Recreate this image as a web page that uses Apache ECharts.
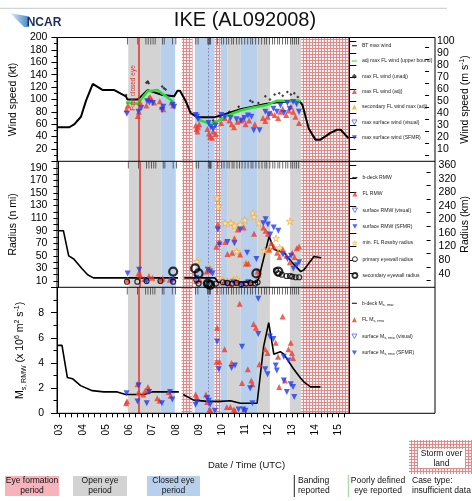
<!DOCTYPE html>
<html><head><meta charset="utf-8">
<script src="https://cdn.jsdelivr.net/npm/echarts@6/dist/echarts.min.js"></script>
<style>html,body{margin:0;padding:0;background:#fff}#c{width:472px;height:501px}</style>
</head><body><div id="c"></div>
<script>
// ---------------- DATA ----------------
const dayLabels = ['03','04','05','06','07','08','09','10','11','12','13','14','15'];
const dayTicks = [3,4,5,6,7,8,9,10,11,12,13,14,15];
const openEyePeriods = [[5.94,7.34],[10.21,10.78],[11.50,12.05],[12.91,13.40]];
const closedEyePeriods = [[7.34,7.96],[8.81,9.67],[9.92,10.21],[10.78,11.50]];
const overLandPeriods = [[8.25,8.71],[9.67,9.92],[13.40,15.47]];
const firstClosedEye = 6.41;
const dottedTime = 9.38;
const bandingTimes = [5.91,6.35,6.70,6.80,6.91,7.01,7.10,7.42,7.49,7.85,7.99,8.85,8.95,9.37,9.40,9.43,9.46,9.49,9.78,
  9.95,10.05,10.18,10.27,10.40,10.48,10.61,10.72,10.83,10.96,11.09,11.22,11.30,11.43,11.56,11.69,11.82,11.90,12.03,
  12.16,12.25,12.38,12.46,12.59,12.72,12.81,12.94,13.02,13.11,13.19,13.28];

// top panel (kt)
const btMaxWind = [[2.885,55],[3.40,55],[3.62,60],[3.90,72],[4.12,98],[4.41,125],[4.84,115],[5.34,115],[5.84,105],[5.90,100],
  [6.34,100],[6.50,105],[6.77,115],[7.42,107],[7.92,105],[8.06,114],[8.17,114],[8.42,97],[8.63,78],[8.92,71],[9.64,71],
  [10.0,75],[10.78,84],[11.3,88],[11.8,92],[12.3,95],[12.9,97],[13.3,98],[13.45,91],[13.72,53],[14.01,35],[14.23,35],
  [14.66,46],[14.94,51],[15.1,51],[15.44,37]];
const adjMaxFLWind = [[5.84,95],[6.34,93],[6.77,113],[7.20,115],[7.49,107],[7.92,95],[8.4,null],[8.92,68],[9.49,60],
  [9.85,66],[10.35,76],[10.78,82],[11.22,86],[11.93,91],[12.36,98],[13.08,98],[13.37,97]];
const maxFLWindUnadj = [[5.85,107],[6.72,127],[6.78,129],[6.82,126],[7.40,121],[7.48,118],[7.55,116],[9.6,66],[9.9,72],
  [10.3,80],[10.7,88],[11.2,98],[11.3,96],[11.55,94],[11.85,105],[12.05,100],[12.25,108],[12.45,110],[12.6,106],[12.8,112],
  [12.95,108],[13.1,110],[13.25,104]];
const maxFLWindAdj = [[5.86,84],[5.92,90],[6.35,73],[6.40,80],[6.45,95],[6.72,90],[6.82,102],[6.88,104],[6.95,100],[7.05,95],
  [7.30,97],[7.38,88],[7.45,84],[7.80,95],[7.88,90],[8.85,58],[8.88,52],[8.92,48],[8.95,55],[9.0,60],[9.35,52],[9.42,45],
  [9.47,40],[9.55,38],[9.6,48],[9.7,44],[9.95,62],[10.1,70],[10.3,66],[10.4,60],[10.5,55],[10.65,64],[10.8,66],[10.9,68],
  [11.0,60],[11.15,66],[11.4,60],[11.75,70],[11.85,65],[11.95,72],[12.1,78],[12.25,75],[12.4,70],[12.5,80],[12.6,85],
  [12.75,75],[12.85,82],[12.95,88],[13.05,80],[13.15,72],[13.3,62]];
const maxSfcWindSFMR = [[5.88,77],[6.38,80],[6.50,86],[6.75,97],[6.85,95],[7.0,94],[7.40,83],[7.45,88],[7.85,91],[7.92,88],
  [8.85,75],[8.9,72],[8.95,68],[9.4,62],[9.5,55],[9.6,52],[9.7,58],[9.95,75],[10.1,72],[10.35,70],[10.6,68],[10.8,66],
  [10.95,70],[11.1,74],[11.25,72],[11.35,50],[11.6,50],[11.85,80],[12.0,76],[12.2,85],[12.35,80],[12.5,90],[12.65,78],
  [12.8,94],[12.9,85],[13.05,96],[13.2,92],[13.3,80]];

// middle panel (n mi)
const bdeckRMW = [[2.885,90],[3.10,90],[3.33,50],[3.55,45],[3.90,30],[4.15,20],[4.40,15],[8.06,15],[8.2,null],[8.33,15],
  [9.65,15],[9.80,8],[11.45,8],[11.55,14],[12.0,81],[12.22,60],[12.5,57],[12.65,55],[13.08,36],[13.37,25],[13.51,28],
  [13.94,49],[14.25,47]];
const flRMW = [[5.88,12],[6.35,22],[6.42,20],[6.6,13],[6.8,18],[6.95,15],[7.3,12],[7.4,14],[7.7,12],[7.85,14],[8.85,10],
  [9.0,12],[9.3,25],[9.4,28],[9.72,65],[9.78,100],[9.85,72],[10.1,72],[10.2,53],[10.4,55],[10.5,78],[10.65,92],[10.75,52],
  [10.9,95],[11.0,38],[11.1,38],[11.35,85],[11.5,25],[11.55,20],[11.75,95],[11.85,90],[11.95,85],[12.0,60],[12.1,70],
  [12.2,65],[12.35,55],[12.45,48],[12.6,60],[12.75,50],[12.9,40],[13.0,55],[13.1,48],[13.2,62],[13.3,65],[10.05,8],
  [10.3,6],[10.6,9],[10.9,7],[11.2,6]];
const sfcRMWSFMR = [[5.88,22],[6.38,28],[6.7,10],[7.8,10],[8.85,15],[9.35,28],[9.45,25],[9.55,22],[9.78,92],[9.85,68],
  [10.2,72],[10.5,70],[10.75,92],[11.05,55],[11.45,45],[11.75,102],[11.85,108],[11.95,100],[12.05,84],[12.2,95],[12.4,90],
  [12.6,52],[12.8,45],[12.95,50],[13.05,30],[13.2,35],[13.3,40],[10.15,6],[10.45,8],[10.8,5],[11.1,8]];
const rossbyRadius = [[8.88,41],[9.38,32],[9.42,28],[9.45,25],[9.75,142],[9.8,129],[10.1,102],[10.35,102],[10.5,98],
  [10.6,57],[10.75,100],[10.95,107],[11.0,38],[11.3,118],[11.35,112],[11.55,102],[11.8,58],[12.0,60],[12.3,78],[12.45,63],
  [12.55,55],[12.9,105],[10.0,12],[10.2,10],[10.45,12],[10.6,13]];
const primaryEyewall = [[5.85,9],[6.3,9],[6.7,10],[7.3,10],[7.85,9],[8.85,12],[8.95,6],[9.3,6],[9.45,5],[9.7,6],[10.0,8],
  [10.2,7],[10.4,6],[10.6,7],[10.8,5],[11.0,6],[11.2,7],[11.4,6],[11.5,8],[12.3,27],[12.4,22],[12.55,20],[12.75,18],
  [12.9,18],[13.0,17],[13.15,16],[13.3,16]];
const secondaryEyewall = [[7.85,25],[8.8,30],[8.95,22],[9.35,6],[9.45,4],[11.45,22],[12.4,25]];

// bottom panel (x10^6 m2 s-1)
const bdeckMs = [[2.885,5.4],[3.10,5.4],[3.33,2.85],[3.55,2.75],[3.90,2.2],[4.40,1.8],[4.90,1.7],[5.48,1.7],[5.84,1.5],
  [6.62,1.5],[6.98,1.7],[7.91,1.7],[8.13,1.7],[8.2,null],[8.32,1.5],[8.77,1.05],[9.35,0.95],[9.92,0.95],[10.35,1.0],
  [10.78,0.8],[11.50,0.8],[11.78,5.3],[12.0,7.2],[12.22,4.7],[12.50,4.9],[12.65,4.7],[13.08,3.5],[13.37,2.8],[13.51,2.5],
  [13.80,2.1],[14.23,2.1]];
const flMs = [[5.86,0.8],[5.9,0.95],[6.35,2.3],[6.4,1.7],[6.6,1.5],[6.68,1.8],[6.8,2.1],[6.85,1.9],[7.2,1.2],[7.3,1.0],
  [7.7,1.7],[7.78,1.4],[8.85,1.5],[8.9,1.3],[9.3,1.5],[9.35,0.9],[9.45,0.3],[9.5,0.2],[9.78,6.8],[9.76,4.1],[9.88,4.1],
  [10.1,5.1],[10.2,0.5],[10.35,0.5],[10.5,0.3],[10.55,0.2],[10.4,4.0],[10.75,8.7],[10.85,2.4],[10.95,0.3],[11.1,3.5],
  [11.25,2.6],[11.3,2.3],[11.35,7.1],[11.45,6.8],[11.6,3.9],[11.85,5.1],[11.95,4.8],[12.3,5.6],[12.4,4.5],[12.45,2.1],
  [12.6,7.7],[12.7,2.6],[12.85,5.1],[12.95,5.6],[13.0,4.8],[13.05,4.4]];
const sfcMsSFMR = [[5.88,1.6],[6.35,0.93],[6.4,2.2],[6.75,0.8],[6.85,1.7],[7.4,0.8],[7.75,1.7],[7.85,1.1],[8.85,0.67],
  [8.9,0.9],[9.35,1.2],[9.42,1.0],[9.48,0.7],[9.68,0.2],[9.78,5.7],[9.85,3.5],[10.4,3.6],[10.55,3.8],[10.7,0.3],[10.85,5.3],
  [10.9,0.3],[11.0,0.2],[11.2,2.0],[11.3,0.8],[11.55,9.1],[11.55,6.3],[11.85,3.5],[11.95,3.1],[12.05,6.1],[12.2,5.9],
  [12.3,3.8],[12.35,3.4],[12.65,4.5],[12.65,2.6],[12.78,1.7],[12.85,4.2],[12.95,2.3],[13.05,2.1],[13.1,1.3]];

// ---------------- STYLE / LAYOUT ----------------
const FONT = 'Liberation Sans, Arial, Helvetica, sans-serif';
const RED = '#f0392c', BLUE = '#1e3cf2', GREEN = '#29e02e', ORANGE = '#f5a82a';
const GRAY_BAND = '#d3d3d3', BLUE_BAND = '#b9d0ec';
const L = 57, R = 349.3, FR = 435;
const panels = [{top:37.5,h:123.8},{top:161.5,h:125.8},{top:287.5,h:125.8}];
const yMax = [200,200,10];

function hatchCanvas(){
  const c = document.createElement('canvas'); c.width = 3; c.height = 3;
  const g = c.getContext('2d');
  g.fillStyle = '#fdf5f5'; g.fillRect(0,0,3,3);
  g.fillStyle = 'rgba(200,70,70,0.6)'; g.fillRect(0,0,3,1); g.fillRect(0,1,1,2);
  return c;
}
const hatch = {image: hatchCanvas(), repeat: 'repeat'};
const INV_TRI = 'path://M0,0 L10,0 L5,9 Z';
const STAR = 'path://M50,0 L61,35 L98,35 L68,57 L79,91 L50,70 L21,91 L32,57 L2,35 L39,35 Z';
const LINE_ICON = 'path://M0,0 L0.05,0 L0,0.05 Z M0,4 L10,4 L10,6 L0,6 Z M10,10 L9.95,10 L10,9.95 Z';

const allTicks = [];
for (let d = 3; d <= 15.25; d += 0.25) allTicks.push(d);

const grids = [], xAxes = [], yAxes = [], series = [];
panels.forEach((p, i) => {
  grids.push({left: L, top: p.top, width: R - L, height: p.h});
  xAxes.push({
    type: 'value', gridIndex: i, min: 2.885, max: 15.47,
    axisLine: {show: i === 2, lineStyle: {color: '#000', width: 1}},
    axisTick: {show: i === 2, customValues: allTicks, length: 4, lineStyle: {color: '#000'}},
    axisLabel: {show: i === 2, customValues: dayTicks, rotate: 90, margin: 11, fontSize: 10, color: '#000', fontFamily: FONT,
      formatter: v => dayLabels[dayTicks.indexOf(Math.round(v))] || ''},
    splitLine: {show: false}
  });
});
panels.forEach((p, i) => {
  grids.push({left: R, top: p.top, width: FR - R, height: p.h});
  xAxes.push({type: 'value', gridIndex: 3 + i, min: 0, max: 1, show: false});
});

const nameStyle = {fontSize: 10.5, color: '#000', fontFamily: FONT,
  rich: {m: {fontSize: 10.5, lineHeight: 14, fontFamily: FONT, color: '#000'},
         s: {fontSize: 7, lineHeight: 7, verticalAlign: 'bottom', fontFamily: FONT, color: '#000'},
         p: {fontSize: 7, lineHeight: 7, verticalAlign: 'top', fontFamily: FONT, color: '#000'}}};
const lblBase = {color: '#000', fontSize: 10.5, fontFamily: FONT};

// left axes
yAxes.push({type: 'value', gridIndex: 0, min: 0, max: 200, interval: 20,
  name: 'Wind speed (kt)', nameLocation: 'middle', nameGap: 33, nameRotate: 90, nameTextStyle: nameStyle,
  axisLine: {show: true, lineStyle: {color: '#000'}}, axisTick: {length: 6, lineStyle: {color: '#000'}},
  minorTick: {show: true, splitNumber: 2, length: 3.5, lineStyle: {color: '#000'}},
  axisLabel: Object.assign({margin: 10, showMinLabel: false}, lblBase), splitLine: {show: false}});
yAxes.push({type: 'value', gridIndex: 1, min: 0, max: 200, interval: 10,
  name: 'Radius (n mi)', nameLocation: 'middle', nameGap: 33, nameRotate: 90, nameTextStyle: nameStyle,
  axisLine: {show: true, lineStyle: {color: '#000'}}, axisTick: {length: 5, lineStyle: {color: '#000'}},
  axisLabel: Object.assign({margin: 11, formatter: v => (Math.round(v) % 20 === 10 ? String(Math.round(v)) : '')}, lblBase),
  splitLine: {show: false}});
yAxes.push({type: 'value', gridIndex: 2, min: 0, max: 10, interval: 2,
  name: '{m|M}{s|s, RMW}{m| (x 10}{p|6}{m| m}{p|2}{m| s}{p|-1}{m|)}', nameLocation: 'middle', nameGap: 26, nameRotate: 90,
  nameTextStyle: nameStyle,
  axisLine: {show: true, lineStyle: {color: '#000'}}, axisTick: {length: 6, lineStyle: {color: '#000'}},
  minorTick: {show: true, splitNumber: 2, length: 3.5, lineStyle: {color: '#000'}},
  axisLabel: Object.assign({margin: 13, showMaxLabel: false}, lblBase), splitLine: {show: false}});
// right axes
const ms = [], msMinor = [];
for (let v = 10; v <= 100; v += 10) ms.push(v);
for (let v = 5; v <= 100; v += 10) msMinor.push(v);
const km = [], kmMinor = [];
for (let v = 40; v <= 360; v += 40) km.push(v);
for (let v = 20; v <= 360; v += 40) kmMinor.push(v);
yAxes.push({type: 'value', gridIndex: 3, position: 'right', min: 0, max: 200 * 0.514444,
  name: '{m|Wind speed (m s}{p|-1}{m|)}', nameLocation: 'middle', nameGap: 26, nameRotate: 90, nameTextStyle: nameStyle,
  axisLine: {show: true, lineStyle: {color: '#000'}},
  axisTick: {customValues: ms, length: 7, lineStyle: {color: '#000'}},
  axisLabel: Object.assign({customValues: ms, margin: 12}, lblBase), splitLine: {show: false}});
yAxes.push({type: 'value', gridIndex: 4, position: 'right', min: 0, max: 200 * 1.852,
  name: 'Radius (km)', nameLocation: 'middle', nameGap: 27, nameRotate: 90, nameTextStyle: nameStyle,
  axisLine: {show: true, lineStyle: {color: '#000'}},
  axisTick: {customValues: km, length: 7, lineStyle: {color: '#000'}},
  axisLabel: Object.assign({customValues: km, margin: 12}, lblBase), splitLine: {show: false}});
yAxes.push({type: 'value', gridIndex: 5, position: 'right', min: 0, max: 10,
  axisLine: {show: true, lineStyle: {color: '#000'}}, axisTick: {show: false}, axisLabel: {show: false}, splitLine: {show: false}});
yAxes.push({type: 'value', gridIndex: 3, position: 'right', min: 0, max: 200 * 0.514444,
  axisLine: {show: false}, axisTick: {customValues: msMinor, length: 4, lineStyle: {color: '#000'}},
  axisLabel: {show: false}, splitLine: {show: false}});
yAxes.push({type: 'value', gridIndex: 4, position: 'right', min: 0, max: 200 * 1.852,
  axisLine: {show: false}, axisTick: {customValues: kmMinor, length: 4, lineStyle: {color: '#000'}},
  axisLabel: {show: false}, splitLine: {show: false}});

// background bands + reference lines + banding marks per panel
function bandData(){
  const d = [];
  openEyePeriods.forEach(p => d.push([{xAxis: p[0], itemStyle: {color: GRAY_BAND}}, {xAxis: p[1]}]));
  closedEyePeriods.forEach(p => d.push([{xAxis: p[0], itemStyle: {color: BLUE_BAND}}, {xAxis: p[1]}]));
  overLandPeriods.forEach(p => d.push([{xAxis: p[0], itemStyle: {color: hatch}}, {xAxis: p[1]}]));
  return d;
}
for (let i = 0; i < 3; i++) {
  series.push({type: 'line', xAxisIndex: i, yAxisIndex: i, data: [], z: 0, silent: true,
    markArea: {silent: true, itemStyle: {opacity: 1}, data: bandData()}});
  series.push({type: 'line', xAxisIndex: i, yAxisIndex: i, data: [], z: 2, silent: true,
    markLine: {silent: true, symbol: 'none', label: {show: false}, data: [
      {xAxis: firstClosedEye, lineStyle: {color: '#e0302a', width: 1.5, type: 'solid'}},
      {xAxis: dottedTime, lineStyle: {color: '#7a78b0', width: 1, type: [1.5, 2]}}]}});
  series.push({type: 'scatter', xAxisIndex: i, yAxisIndex: i, z: 3, silent: true,
    data: bandingTimes.map(t => [t, yMax[i]]), symbol: 'rect', symbolSize: [0.9, 7], symbolOffset: [0, 3.5],
    itemStyle: {color: '#333'}});
}

// top panel series
series.push({name: 'BT max wind', type: 'line', xAxisIndex: 0, yAxisIndex: 0, data: btMaxWind, symbol: 'none', z: 4,
  lineStyle: {color: '#000', width: 2}, itemStyle: {color: '#000'}});
series.push({name: 'adj max FL wind (upper bound)', type: 'line', xAxisIndex: 0, yAxisIndex: 0, data: adjMaxFLWind, symbol: 'none', z: 5,
  connectNulls: false, lineStyle: {color: GREEN, width: 2.5}, itemStyle: {color: GREEN}});
series.push({name: 'max FL wind (unadj)', type: 'scatter', xAxisIndex: 0, yAxisIndex: 0, data: maxFLWindUnadj, z: 6,
  symbol: 'diamond', symbolSize: 3, itemStyle: {color: '#111'}});
series.push({name: 'max FL wind (adj)', type: 'scatter', xAxisIndex: 0, yAxisIndex: 0, data: maxFLWindAdj, z: 6,
  symbol: 'triangle', symbolSize: 6, itemStyle: {color: RED}});
series.push({name: 'secondary FL wind max (adj)', type: 'scatter', xAxisIndex: 0, yAxisIndex: 0, data: [], z: 6,
  symbol: 'triangle', symbolSize: 6, itemStyle: {color: ORANGE}});
series.push({name: 'max surface wind (visual)', type: 'scatter', xAxisIndex: 0, yAxisIndex: 0, data: [], z: 6,
  symbol: INV_TRI, symbolSize: 6, itemStyle: {color: '#fff', borderColor: BLUE, borderWidth: 1}});
series.push({name: 'max surface wind (SFMR)', type: 'scatter', xAxisIndex: 0, yAxisIndex: 0, data: maxSfcWindSFMR, z: 6,
  symbol: INV_TRI, symbolSize: 6, itemStyle: {color: BLUE}});

// middle panel series
series.push({name: 'b-deck RMW', type: 'line', xAxisIndex: 1, yAxisIndex: 1, data: bdeckRMW, symbol: 'none', z: 4,
  lineStyle: {color: '#000', width: 1.6}, itemStyle: {color: '#000'}});
series.push({name: 'FL RMW', type: 'scatter', xAxisIndex: 1, yAxisIndex: 1, data: flRMW, z: 6,
  symbol: 'triangle', symbolSize: 6, itemStyle: {color: RED}});
series.push({name: 'surface RMW (visual)', type: 'scatter', xAxisIndex: 1, yAxisIndex: 1, data: [], z: 6,
  symbol: INV_TRI, symbolSize: 6, itemStyle: {color: '#fff', borderColor: BLUE, borderWidth: 1}});
series.push({name: 'surface RMW (SFMR)', type: 'scatter', xAxisIndex: 1, yAxisIndex: 1, data: sfcRMWSFMR, z: 6,
  symbol: INV_TRI, symbolSize: 6, itemStyle: {color: BLUE}});
series.push({name: 'min. FL Rossby radius', type: 'scatter', xAxisIndex: 1, yAxisIndex: 1, data: rossbyRadius, z: 5,
  symbol: STAR, symbolSize: 7, itemStyle: {color: '#fde8b8', borderColor: ORANGE, borderWidth: 0.8}});
series.push({name: 'primary eyewall radius', type: 'scatter', xAxisIndex: 1, yAxisIndex: 1, data: primaryEyewall, z: 7,
  symbol: 'circle', symbolSize: 5, itemStyle: {color: 'rgba(255,255,255,0)', borderColor: '#000', borderWidth: 1.2}});
series.push({name: 'secondary eyewall radius', type: 'scatter', xAxisIndex: 1, yAxisIndex: 1, data: secondaryEyewall, z: 7,
  symbol: 'circle', symbolSize: 8, itemStyle: {color: 'rgba(255,255,255,0)', borderColor: '#000', borderWidth: 2.2}});

// bottom panel series
series.push({name: 'b-deck Ms,rmw', type: 'line', xAxisIndex: 2, yAxisIndex: 2, data: bdeckMs, symbol: 'none', z: 4,
  lineStyle: {color: '#000', width: 1.6}, itemStyle: {color: '#000'}});
series.push({name: 'FL Ms,rmw', type: 'scatter', xAxisIndex: 2, yAxisIndex: 2, data: flMs, z: 6,
  symbol: 'triangle', symbolSize: 6, itemStyle: {color: RED}});
series.push({name: 'surface Ms,rmw (visual)', type: 'scatter', xAxisIndex: 2, yAxisIndex: 2, data: [], z: 6,
  symbol: INV_TRI, symbolSize: 6, itemStyle: {color: '#fff', borderColor: BLUE, borderWidth: 1}});
series.push({name: 'surface Ms,rmw (SFMR)', type: 'scatter', xAxisIndex: 2, yAxisIndex: 2, data: sfcMsSFMR, z: 6,
  symbol: INV_TRI, symbolSize: 6, itemStyle: {color: BLUE}});

const legendText = {fontSize: 5.1, color: '#222', fontFamily: FONT, lineHeight: 7,
  rich: {n: {fontSize: 5.1, fontFamily: FONT, color: '#222', lineHeight: 7},
         s: {fontSize: 3.6, fontFamily: FONT, color: '#222', lineHeight: 4, verticalAlign: 'bottom'}}};
function legend(top, gap, items, fmt){
  return {orient: 'vertical', left: 351.5, top: top, itemWidth: 5, itemHeight: 5, itemGap: gap, padding: 0,
    selectedMode: false, textStyle: legendText, data: items.map(it => ({name: it[0], icon: it[1], itemStyle: it[2]})),
    formatter: fmt};
}
const openTri = {color: '#fff', borderColor: BLUE, borderWidth: 0.8};
const legends = [
  legend(42.2, 8.3, [['BT max wind', LINE_ICON, {color: '#000'}],
    ['adj max FL wind (upper bound)', LINE_ICON, {color: GREEN}],
    ['max FL wind (unadj)', 'diamond', {color: '#222'}],
    ['max FL wind (adj)', 'triangle', {color: RED}],
    ['secondary FL wind max (adj)', 'triangle', {color: ORANGE}],
    ['max surface wind (visual)', INV_TRI, openTri],
    ['max surface wind (SFMR)', INV_TRI, {color: BLUE}]]),
  legend(174.2, 9.3, [['b-deck RMW', LINE_ICON, {color: '#000'}],
    ['FL RMW', 'triangle', {color: RED}],
    ['surface RMW (visual)', INV_TRI, openTri],
    ['surface RMW (SFMR)', INV_TRI, {color: BLUE}],
    ['min. FL Rossby radius', STAR, {color: '#fde8b8', borderColor: ORANGE, borderWidth: 0.6}],
    ['primary eyewall radius', 'circle', {color: '#fff', borderColor: '#000', borderWidth: 1}],
    ['secondary eyewall radius', 'circle', {color: '#fff', borderColor: '#000', borderWidth: 1.8}]]),
  legend(299.8, 9.5, [['b-deck Ms,rmw', LINE_ICON, {color: '#000'}],
    ['FL Ms,rmw', 'triangle', {color: RED}],
    ['surface Ms,rmw (visual)', INV_TRI, openTri],
    ['surface Ms,rmw (SFMR)', INV_TRI, {color: BLUE}]],
    name => {
      const m = name.match(/^(.*)Ms,rmw(.*)$/);
      return '{n|' + m[1] + 'M}{s|s, rmw}{n|' + m[2] + '}';
    })
];

const txt = (x, y, t, o) => Object.assign({type: 'text', x: x, y: y, style: Object.assign({text: t, fill: '#111',
  font: '8.5px ' + FONT, textAlign: 'center', textVerticalAlign: 'middle', lineHeight: 10}, o || {})});
const graphics = [
  {type: 'line', shape: {x1: 0, y1: 8.3, x2: 447, y2: 8.3}, style: {stroke: '#c8c8c8', lineWidth: 1}},
  {type: 'polygon', shape: {points: [[10,13],[29,16.5],[29,27],[24,27]]},
    style: {fill: new echarts.graphic.LinearGradient(0,0,1,0,[{offset:0,color:'#e3f0fb'},{offset:1,color:'#3f86c8'}])}},
  txt(44, 22.5, 'NCAR', {font: 'bold 12px ' + FONT, fill: '#1b2d5e'}),
  txt(245, 20.5, 'IKE (AL092008)', {font: '20px ' + FONT, fill: '#111'}),
  Object.assign(txt(133.5, 88, 'First closed eye', {font: '6.5px ' + FONT, fill: '#e0302a'}), {rotation: Math.PI / 2, z: 20}),
  // frame
  {type: 'rect', z: 50, shape: {x: L, y: 37.5, width: FR - L, height: 413.3 - 37.5}, style: {fill: 'none', stroke: '#000', lineWidth: 1}},
  {type: 'line', z: 50, shape: {x1: L, y1: 161.3, x2: FR, y2: 161.3}, style: {stroke: '#000', lineWidth: 1}},
  {type: 'line', z: 50, shape: {x1: L, y1: 287.3, x2: FR, y2: 287.3}, style: {stroke: '#000', lineWidth: 1}},
  {type: 'line', z: 50, shape: {x1: R, y1: 37.5, x2: R, y2: 413.3}, style: {stroke: '#000', lineWidth: 1}},
  // bottom legend
  txt(246.5, 465, 'Date / Time (UTC)', {font: '9.5px ' + FONT}),
  {type: 'rect', shape: {x: 5, y: 476, width: 54, height: 20}, style: {fill: '#f6b3bb'}},
  txt(32, 486, 'Eye formation\nperiod'),
  {type: 'rect', shape: {x: 73, y: 476, width: 54, height: 20}, style: {fill: GRAY_BAND}},
  txt(100, 486, 'Open eye\nperiod'),
  {type: 'rect', shape: {x: 147, y: 476, width: 53, height: 20}, style: {fill: BLUE_BAND}},
  txt(173.5, 486, 'Closed eye\nperiod'),
  {type: 'line', shape: {x1: 294.3, y1: 475, x2: 294.3, y2: 497}, style: {stroke: '#222', lineWidth: 1}},
  txt(298, 486, 'Banding\nreported', {textAlign: 'left'}),
  {type: 'line', shape: {x1: 348.3, y1: 475, x2: 348.3, y2: 497}, style: {stroke: '#8fd88f', lineWidth: 1}},
  txt(378, 486, 'Poorly defined\neye reported'),
  txt(412, 486, 'Case type:\ninsufficient data', {textAlign: 'left'}),
  {type: 'rect', shape: {x: 409, y: 440, width: 63, height: 34}, style: {fill: hatch}},
  {type: 'rect', shape: {x: 418, y: 449, width: 47, height: 19}, style: {fill: '#fff'}},
  txt(441.5, 458.5, 'Storm over\nland')
];

const chart = echarts.init(document.getElementById('c'), null, {renderer: 'canvas'});
chart.setOption({
  animation: false, backgroundColor: '#fff',
  grid: grids, xAxis: xAxes, yAxis: yAxes, series: series, legend: legends, graphic: graphics
});
</script></body></html>
